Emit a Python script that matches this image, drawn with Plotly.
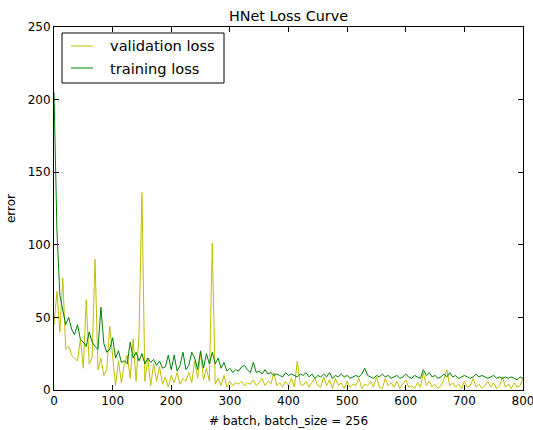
import plotly.graph_objects as go

batches = list(range(0, 805, 5))

training_loss = [
    205, 110, 65, 55, 45, 50, 42, 38, 45, 35, 33, 30, 40, 33, 30, 28, 57, 32, 26, 28,
    36, 22, 27, 19, 20, 18, 33, 22, 26, 20, 25, 18, 22, 19, 21, 17, 20, 15, 16, 24,
    14, 24, 13, 17, 26, 14, 17, 26, 22, 14, 27, 15, 25, 18, 26, 18, 22, 15, 19, 13,
    15, 12, 14, 13, 16, 17, 14, 12, 19, 12, 13, 11, 14, 11, 12, 10, 11, 10, 9, 12,
    10, 11, 10, 9, 11, 10, 12, 9, 11, 8, 10, 9, 11, 9, 12, 8, 10, 9, 11, 9,
    10, 8, 9, 10, 9, 11, 15, 10, 9, 8, 10, 9, 11, 9, 10, 8, 9, 10, 8, 9,
    11, 9, 8, 10, 9, 8, 14, 10, 12, 9, 10, 8, 9, 11, 9, 12, 9, 10, 8, 9,
    10, 9, 8, 9, 11, 9, 10, 9, 8, 9, 10, 8, 9, 8, 9, 8, 9, 8, 7, 9, 8,
]

validation_loss = [
    45, 68, 40, 77, 28, 30, 24, 22, 20, 35, 15, 62, 18, 22, 90, 14, 22, 10, 14, 44,
    25, 3, 20, 5, 18, 24, 8, 35, 6, 38, 136, 6, 22, 3, 18, 6, 16, 4, 9, 2,
    10, 5, 12, 4, 8, 6, 12, 5, 20, 8, 26, 7, 15, 6, 101, 4, 8, 3, 10, 2,
    6, 3, 5, 4, 6, 3, 5, 4, 7, 3, 5, 8, 3, 6, 4, 12, 3, 5, 2, 6,
    3, 8, 2, 20, 4, 3, 6, 2, 5, 8, 3, 2, 9, 3, 7, 1, 8, 3, 5, 1,
    6, 2, 4, 3, 8, 1, 4, 3, 6, 2, 9, 2, 1, 8, 3, 5, 2, 6, 1, 4,
    7, 2, 3, 1, 5, 2, 12, 3, 6, 2, 4, 1, 3, 7, 14, 3, 5, 2, 4, 1,
    6, 2, 3, 8, 2, 4, 1, 3, 6, 2, 5, 1, 3, 9, 2, 4, 1, 5, 2, 3, 8,
]

series_names = ["validation loss", "training loss"]
series_colors = ["#bfbf00", "#008000"]

x_ticks = [0, 100, 200, 300, 400, 500, 600, 700, 800]
y_ticks = [0, 50, 100, 150, 200, 250]

font = "DejaVu Sans"

fig = go.Figure()
for name, color, ys in zip(series_names, series_colors, [validation_loss, training_loss]):
    fig.add_trace(go.Scatter(x=batches, y=ys, mode="lines", name=name,
                             line=dict(color=color, width=1)))

# legend box drawn in paper coordinates (matplotlib-style legend)
plot_w, plot_h = 469.0, 363.0
def px(xp):
    return (xp - 54) / plot_w
def py(yp):
    return (390 - yp) / plot_h

shapes = [dict(type="rect", xref="paper", yref="paper", x0=px(62), x1=px(224),
               y0=py(83), y1=py(33), line=dict(color="black", width=1),
               fillcolor="white", layer="above")]
annotations = []
for i, (name, color) in enumerate(zip(series_names, series_colors)):
    yc = 46 + 22 * i
    shapes.append(dict(type="line", xref="paper", yref="paper", x0=px(71), x1=px(93),
                       y0=py(yc), y1=py(yc), line=dict(color=color, width=1), layer="above"))
    annotations.append(dict(text=name, xref="paper", yref="paper", x=px(108), y=py(yc),
                            xanchor="left", yanchor="middle", showarrow=False,
                            font=dict(family=font, size=14.6, color="black")))

axis_common = dict(showline=True, linecolor="black", linewidth=1, mirror="ticks",
                   ticks="inside", ticklen=5, tickcolor="black", showgrid=False,
                   zeroline=False, ticklabeloverflow="allow", automargin=False,
                   tickfont=dict(family=font, size=12, color="black"))

fig.update_layout(
    width=533, height=430,
    margin=dict(l=54, r=10, t=27, b=40),
    paper_bgcolor="white", plot_bgcolor="white",
    font=dict(family=font, color="black"),
    title=dict(text="HNet Loss Curve", x=0.5, xref="paper", xanchor="center",
               y=1 - 16 / 430, yanchor="middle", font=dict(family=font, size=14.4)),
    xaxis=dict(range=[0, 800], tickvals=x_ticks,
               title=dict(text="# batch, batch_size = 256", font=dict(family=font, size=12), standoff=9),
               **axis_common),
    yaxis=dict(range=[0, 250], tickvals=y_ticks,
               title=dict(text="error", font=dict(family=font, size=12), standoff=9),
               **axis_common),
    shapes=shapes,
    annotations=annotations,
    showlegend=False,
)

fig.write_html("out.html")
